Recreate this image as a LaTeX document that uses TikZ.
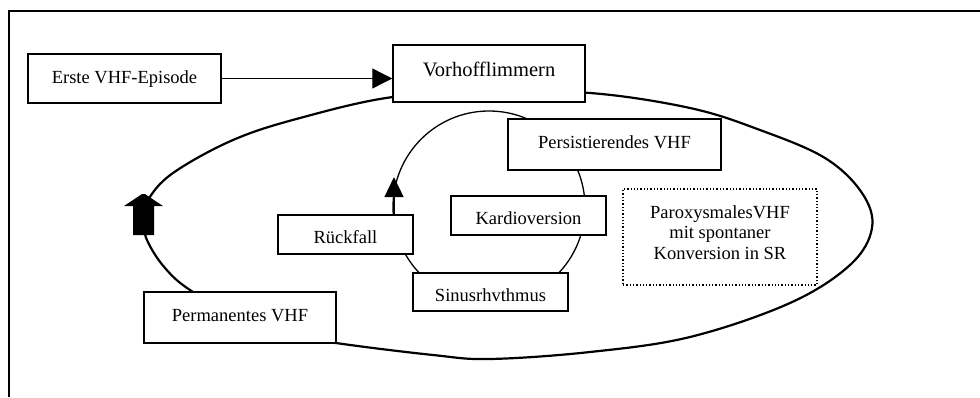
\documentclass[tikz,border=0pt]{standalone}
\usepackage{fontspec}
\setmainfont{Liberation Serif}
\usetikzlibrary{arrows.meta}
\begin{document}
\begin{tikzpicture}[x=1pt,y=-1pt,
  box/.style={draw, fill=white, line width=1.5pt, inner sep=0pt, text depth=5pt,
    font=\fontsize{18.5}{20.5}\selectfont},
  frameline/.style={line width=1.5pt},
  bigloop/.style={line width=2.2pt},
  cycleline/.style={line width=1.3pt},
  arr/.style={line width=1.3pt, -{Triangle[length=20pt,width=20pt]}},
  arrsmall/.style={line width=1.3pt, -{Triangle[length=20pt,width=19pt]}}]
\useasboundingbox (0,0) rectangle (980,397);
% frame
\draw[frameline] (9,397) -- (9,11) -- (980,11);
% big loop
\draw[bigloop] plot[smooth cycle, tension=0.6] coordinates {
  (393,97) (300,118) (233,140) (173,173) (148,200) (144,220) (147,240)
  (165,268) (193,292) (260,330) (336,343) (433,355) (490,359) (590,352)
  (690,337) (790,303) (850,265) (872,228) (862,193) (825,158) (760,130)
  (690,108) (590,93) (490,93)};
% inner cycle
\draw[cycleline] (489,207) circle[radius=96];
% block arrow on the big loop
\fill (133,235) -- (154,235) -- (154,206) -- (163,206) -- (145,194) -- (142,194) -- (124,206) -- (133,206) -- cycle;
% boxes
\node[box, minimum width=193pt, minimum height=49pt, text height=14pt] (erste) at (124.5,78.5) {Erste VHF-Episode};
\node[box, minimum width=192pt, minimum height=57pt, text height=10pt,
  font=\fontsize{20.5}{22}\selectfont] (vorhof) at (489,73.5) {Vorhofflimmern\hspace{10pt}};
\node[box, minimum width=213pt, minimum height=51pt, text height=12pt] (pers) at (614.5,144.5) {Persistierendes VHF};
\node[box, minimum width=155pt, minimum height=39pt, text height=22pt] (kardio) at (528.5,215.5) {Kardioversion};
\node[box, minimum width=135pt, minimum height=39pt, text height=22pt] (rueck) at (345.5,234.5) {Rückfall};
\node[box, minimum width=155pt, minimum height=38pt, text height=23pt] (sinus) at (490.5,292) {Sinusrhvthmus};
\node[box, minimum width=192pt, minimum height=51pt, text height=12pt] (perm) at (240,317.5) {Permanentes VHF};
\node[draw, dotted, line width=1.3pt, minimum width=194pt, minimum height=96pt] (parox) at (720,237) {};
\node[align=center, inner sep=0pt, font=\fontsize{18.5}{20.5}\selectfont] (paroxtext) at (720,232.3)
  {ParoxysmalesVHF\\mit spontaner\\Konversion in SR};
% connectors
\draw[arr] (erste.east) -- (erste.east -| vorhof.west);
\coordinate (rtip) at (394,177);
\draw[arrsmall] (rueck.north -| rtip) -- (rtip);
\end{tikzpicture}
\end{document}
